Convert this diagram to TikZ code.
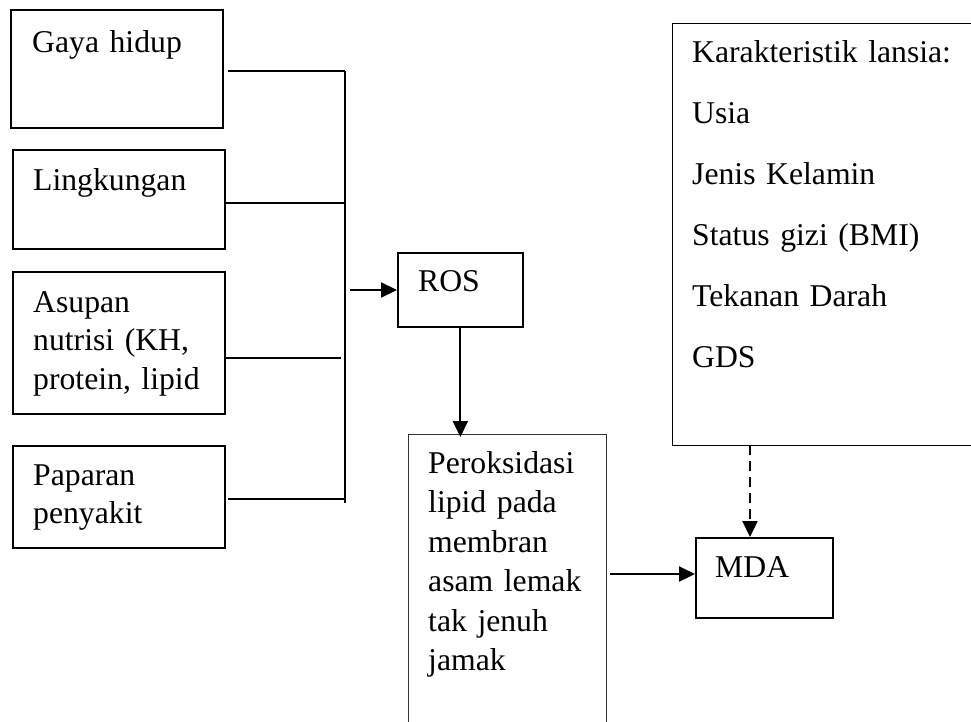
\documentclass[tikz,border=0pt]{standalone}
\usepackage{fontspec}
\setmainfont{Liberation Serif}
\usetikzlibrary{arrows.meta}

\begin{document}
\begin{tikzpicture}[x=1pt,y=-1pt]
	\tikzstyle{every node}+=[inner sep=0pt]
	\tikzstyle{box}=[draw, line width=1.7pt, anchor=north west]
	\tikzstyle{thinbox}=[draw, line width=0.9pt, anchor=north west]
	\tikzstyle{txt}=[anchor=base west, align=left, text width=280pt, font=\fontsize{31.7}{38.5}\selectfont]
	\tikzstyle{wire}=[line width=1.8pt]
	\tikzstyle{arr}=[line width=2.2pt, -{Triangle[length=16pt,width=15pt]}]
	\useasboundingbox (0,0) rectangle (971,721);
	% left boxes
	\node[box, minimum width=212pt, minimum height=118pt] (gaya) at (10,9) {};
	\node[box, minimum width=212pt, minimum height=99pt] (lingk) at (12,149) {};
	\node[box, minimum width=212pt, minimum height=142pt] (asupan) at (12,271) {};
	\node[box, minimum width=212pt, minimum height=102pt] (paparan) at (12,445) {};
	\node[txt] (gayaT) at (32,52) {Gaya hidup};
	\node[txt] (lingkT) at (33,190) {Lingkungan};
	\node[txt] (asupanT) at (33,312) {Asupan\\nutrisi (KH,\\protein, lipid};
	\node[txt] (paparanT) at (33,485) {Paparan\\penyakit};
	% middle and right boxes
	\node[box, minimum width=125pt, minimum height=74pt] (ros) at (397,252) {};
	\node[txt] (rosT) at (418,291) {ROS};
	\node[thinbox, draw=black!80, minimum width=198pt, minimum height=300pt] (perok) at (408,434) {};
	\node[txt, font=\fontsize{31.7}{39.5}\selectfont] (perokT) at (428,473) {Peroksidasi\\lipid pada\\membran\\asam lemak\\tak jenuh\\jamak};
	\node[box, minimum width=137pt, minimum height=80pt] (mda) at (695,537) {};
	\node[txt] (mdaT) at (715,577) {MDA};
	\node[thinbox, line width=1.2pt, minimum width=310pt, minimum height=422pt] (karak) at (672,23) {};
	\node[txt, font=\fontsize{31.7}{61}\selectfont] (karakT) at (692,62) {Karakteristik lansia:\\Usia\\Jenis Kelamin\\Status gizi (BMI)\\Tekanan Darah\\GDS};
	% bus
	\coordinate (b1) at (345,71);
	\coordinate (b2) at (345,203);
	\coordinate (b3) at (345,358);
	\coordinate (b4) at (345,499);
	\coordinate (b5) at (345,503);
	\draw[wire] (b1) -- (b5);
	\draw[wire, shorten <=4pt] (gaya.east |- b1) -- (b1);
	\draw[wire] (lingk.east |- b2) -- (b2);
	\draw[wire, shorten >=4pt] (asupan.east |- b3) -- (b3);
	\draw[wire, shorten <=2pt] (paparan.east |- b4) -- (b4);
	% arrows
	\coordinate (r) at (350,290);
	\draw[arr] (r) -- (r -| ros.west);
	\draw[arr] (ros.south) -- ([yshift=-3pt]ros.south |- perok.north);
	\coordinate (m) at (610,574);
	\draw[arr] (m) -- (m -| mda.west);
	\coordinate (k) at (750,445);
	\draw[arr, dash pattern=on 10pt off 6pt] (k) -- (k |- mda.north);
\end{tikzpicture}
\end{document}
